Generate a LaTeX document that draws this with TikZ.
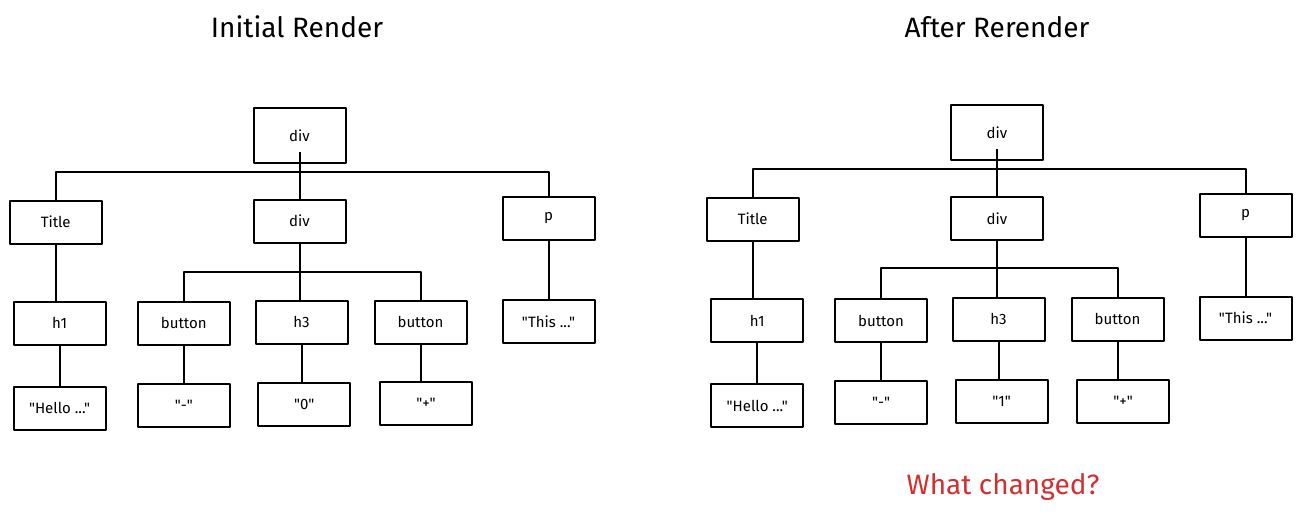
\documentclass[tikz,border=0pt]{standalone}
\usepackage{fontspec}
\setmainfont{Fira Sans}[Ligatures=TeXOff]
\usepackage{xcolor}
\usetikzlibrary{positioning, calc}
\definecolor{askred}{HTML}{D32F2F}
\tikzset{
    vdom/.style={x=1pt, y=-1pt, line width=2pt, line join=round},
    block/.style={draw, line width=2pt, minimum width=92pt, minimum height=43pt, inner sep=0pt, font=\fontsize{15}{18}\selectfont},
    rootblock/.style={block, minimum height=55pt},
    heading/.style={font=\fontsize{28}{32}\selectfont},
    % legs hang from the parent and meet the child vertically
    leg/.style={line width=2pt},
}

\begin{document}
\begin{tikzpicture}[vdom]
    \useasboundingbox (0,0) rectangle (1298,514);

    \node[heading] (lhead) at (297,27) {Initial Render};
    \node[heading] (rhead) at (997,27) {After Rerender};
    \node[heading, text=askred] (ask) at (1003,487) {What changed?};

    % initial render
    \node[rootblock] (lroot) at (299.5,135.8) {div};
    \node[block] (ltitle) at (55.7,222) {Title};
    \node[block] (ldiv) at (299.5,221) {div};
    \node[block] (lp) at (548.5,218.3) {p};
    \node[block] (lh1) at (59.6,323.1) {h1};
    \node[block] (lbtnA) at (183.8,323.1) {button};
    \node[block] (lh3) at (301.5,322) {h3};
    \node[block] (lbtnB) at (420.5,322) {button};
    \node[block] (lthis) at (548.5,321.3) {"This ..."};
    \node[block] (lhello) at (59.6,408.3) {"Hello ..."};
    \node[block] (lminus) at (183.8,405.6) {"-"};
    \node[block] (lzero) at (304.2,404.1) {"0"};
    \node[block] (lplus) at (426,403.5) {"+"};

    \coordinate (lbus) at (299.5,172);
    \coordinate (lbus2) at (299.5,271.7);
    \draw[leg] ([yshift=12pt]lroot.south) -- (ldiv.north);
    \draw[leg] (ltitle.north) |- (lbus) -| (lp.north);
    \draw[leg] (ldiv.south) -- (ldiv.south |- lh3.north);
    \draw[leg] (lbtnA.north) |- (lbus2) -| (lbtnB.north);
    \foreach \a/\b in {ltitle/lh1, lh1/lhello, lbtnA/lminus, lh3/lzero, lbtnB/lplus, lp/lthis}
        \draw[leg] (\a.south) -- (\a.south |- \b.north);

    % after rerender
    \node[rootblock] (rroot) at (996.9,132.8) {div};
    \node[block] (rtitle) at (752.7,219.1) {Title};
    \node[block] (rdiv) at (996.9,218.3) {div};
    \node[block] (rp) at (1245.5,215.5) {p};
    \node[block] (rh1) at (757.2,320.6) {h1};
    \node[block] (rbtnA) at (881,320.8) {button};
    \node[block] (rh3) at (998.5,319.2) {h3};
    \node[block] (rbtnB) at (1117.5,319.2) {button};
    \node[block] (rthis) at (1245.5,318) {"This ..."};
    \node[block] (rhello) at (757.2,405.8) {"Hello ..."};
    \node[block] (rminus) at (881.2,402.5) {"-"};
    \node[block] (rone) at (1001.7,401.6) {"1"};
    \node[block] (rplus) at (1123.1,401) {"+"};

    \coordinate (rbus) at (996.9,169.3);
    \coordinate (rbus2) at (996.9,268.3);
    \draw[leg] ([yshift=12pt]rroot.south) -- (rdiv.north);
    \draw[leg] (rtitle.north) |- (rbus) -| (rp.north);
    \draw[leg] (rdiv.south) -- (rdiv.south |- rh3.north);
    \draw[leg] (rbtnA.north) |- (rbus2) -| (rbtnB.north);
    \foreach \a/\b in {rtitle/rh1, rh1/rhello, rbtnA/rminus, rh3/rone, rbtnB/rplus, rp/rthis}
        \draw[leg] (\a.south) -- (\a.south |- \b.north);
\end{tikzpicture}
\end{document}
